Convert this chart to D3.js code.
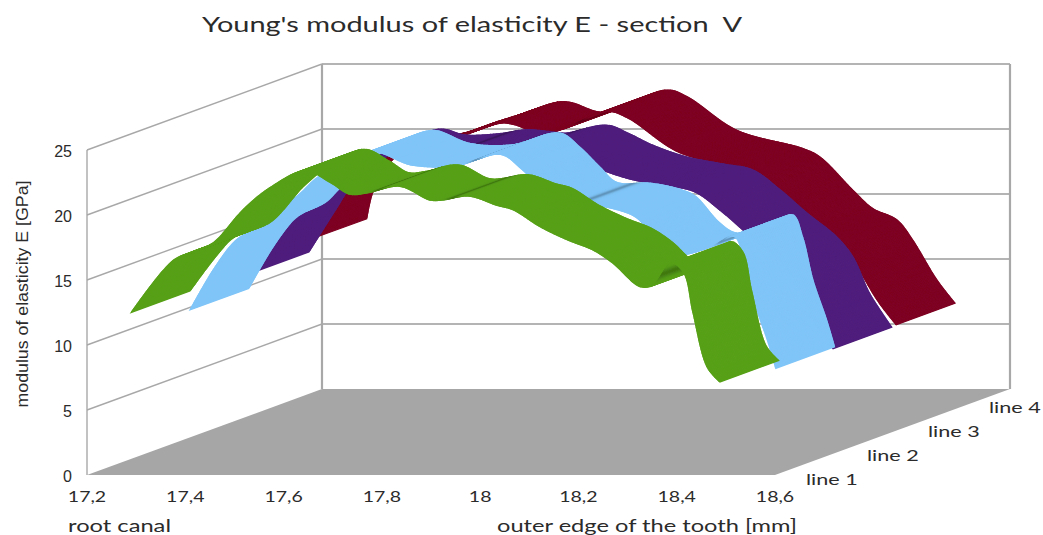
<!DOCTYPE html>
<html>
<head>
<meta charset="utf-8">
<script src="https://cdn.jsdelivr.net/npm/d3@7"></script>
<style>
  html, body { margin: 0; padding: 0; background: #fff; }
  svg { display: block; }
  text { fill: #2b2b2b; white-space: pre; }
</style>
</head>
<body>
<div id="vis"></div>
<script>
const xTicks = [17.2, 17.4, 17.6, 17.8, 18, 18.2, 18.4, 18.6];
const yTicks = [0, 5, 10, 15, 20, 25];
const lineNames = ["line 1", "line 2", "line 3", "line 4"];
const lineColors = ["#57a018", "#80c5f8", "#4f1f7c", "#7e0021"];

const x1 = [17.29,17.375,17.41,17.456,17.52,17.572,17.644,17.695,17.735,17.77,17.837,17.898,17.924,17.977,18.034,18.067,18.122,18.177,18.23,18.27,18.325,18.352,18.39,18.415,18.433,18.462,18.488];
const e1 = [12.5,16.5,17.1,17.85,20.5,22.1,23.4,22.5,21.6,21.7,22.2,21.15,21.15,21.45,20.75,20.4,19.1,18.1,17.3,16.3,14.5,14.6,16.3,15.5,12.5,8.3,7.15];

const x2 = [17.29,17.337,17.378,17.398,17.447,17.479,17.514,17.548,17.605,17.665,17.74,17.827,17.923,17.964,18.004,18.039,18.106,18.173,18.2,18.248,18.283,18.35,18.397,18.417,18.438,18.466,18.482];
const e2 = [11.04,14.1,16.2,16.8,17.7,18.9,20.0,21.2,22.4,23.2,22.2,22.1,23.0,21.9,20.4,19.2,19.15,18.6,18.1,16.1,15.3,15.9,16.7,15.0,11.7,8.6,6.55];

const x3 = [17.293,17.348,17.38,17.415,17.435,17.486,17.559,17.61,17.681,17.736,17.797,17.818,17.899,17.944,17.993,18.062,18.129,18.196,18.251,18.306,18.367,18.4,18.434,18.479];
const e3 = [12.2,15.5,17.3,18.2,19.0,20.5,21.65,21.2,21.3,21.6,21.4,21.35,21.95,21.3,20.4,19.5,19.0,18.5,17.0,15.2,13.35,11.8,9.0,6.4];

const x4 = [17.291,17.303,17.325,17.366,17.438,17.5,17.56,17.602,17.684,17.71,17.765,17.806,17.901,17.942,18.044,18.178,18.213,18.28,18.32,18.37,18.402,18.451,18.488];
const e4 = [13.1,15.1,16.6,18.5,19.3,19.8,20.6,21.1,22.1,22.0,21.3,21.6,23.0,22.5,19.9,18.5,17.85,15.3,13.9,13.0,11.45,8.4,6.6];

const xByLine = [x1, x2, x3, x4];
const eByLine = [e1, e2, e3, e4];

const width = 1043, height = 535;

const svg = d3.select("#vis").append("svg")
  .attr("width", width)
  .attr("height", height);

svg.append("defs").append("filter")
  .attr("id", "soft")
  .append("feGaussianBlur")
  .attr("stdDeviation", 0.5);

// front plane scales
const x = d3.scaleLinear().domain([17.2, 18.6]).range([87, 775]);
const y = d3.scaleLinear().domain([0, 25]).range([475, 150]);
// oblique depth, one band per line
const depthX = d3.scaleLinear().domain([0, 4]).range([0, 235]);
const depthY = d3.scaleLinear().domain([0, 4]).range([0, -86]);

function px(v, d) { return x(v) + depthX(d); }
function py(e, d) { return y(e) + depthY(d); }

////////// walls and floor //////////

const xMin = xTicks[0], xMax = xTicks[xTicks.length - 1];

svg.append("polygon")
  .attr("points", [[px(xMin, 0), py(0, 0)], [px(xMax, 0), py(0, 0)], [px(xMax, 4), py(0, 4)], [px(xMin, 4), py(0, 4)]].join(" "))
  .attr("fill", "#a6a6a6");

svg.selectAll(".side-grid")
  .data(yTicks.slice(1))
  .enter().append("line")
  .attr("class", "side-grid")
  .attr("x1", px(xMin, 0)).attr("x2", px(xMin, 4))
  .attr("y1", d => py(d, 0)).attr("y2", d => py(d, 4))
  .attr("stroke", "#a8a8a8").attr("stroke-width", 1.4);

svg.selectAll(".back-grid")
  .data(yTicks.slice(1))
  .enter().append("line")
  .attr("class", "back-grid")
  .attr("x1", px(xMin, 4)).attr("x2", px(xMax, 4))
  .attr("y1", d => py(d, 4)).attr("y2", d => py(d, 4))
  .attr("stroke", "#b4b4b4").attr("stroke-width", 2);

const edges = [[xMin, 0, 1.4], [xMin, 4, 2.2], [xMax, 4, 2.2]];
svg.selectAll(".edge")
  .data(edges)
  .enter().append("line")
  .attr("class", "edge")
  .attr("x1", d => px(d[0], d[1])).attr("x2", d => px(d[0], d[1]))
  .attr("y1", d => py(0, d[1])).attr("y2", d => py(25, d[1]))
  .attr("stroke", "#a8a8a8")
  .attr("stroke-width", d => d[2]);

////////// ribbons, back to front //////////

const depthVec = [depthX(1) - depthX(0), depthY(1) - depthY(0)];

const edgeLine = d3.line().curve(d3.curveCatmullRom.alpha(0.5));

function drawRibbon(i) {
  const pts = xByLine[i].map((v, k) => [px(v, i), py(eByLine[i][k], i)]);
  const helper = svg.append("path").attr("d", edgeLine(pts)).attr("fill", "none");
  const node = helper.node();
  const total = node.getTotalLength();
  const samples = d3.range(0, total, 1.5).concat([total]).map(l => {
    const p = node.getPointAtLength(l);
    return [p.x, p.y];
  });
  helper.remove();

  const quads = d3.pairs(samples).map(([a, b]) => {
    return { a, b, rise: (a[1] - b[1]) / Math.max(0.01, Math.abs(b[0] - a[0])), shade: 0 };
  });

  // a rise that follows a dip gets a dark streak across the ribbon
  let k = 1;
  while (k < quads.length) {
    if (quads[k - 1].rise < 0 && quads[k].rise >= 0) {
      let end = k;
      while (end < quads.length && quads[end].rise >= 0) end++;
      const run = d3.range(k, end);
      const steepest = run[d3.greatestIndex(run, m => quads[m].rise)];
      quads.forEach((o, m) => {
        o.shade = Math.max(o.shade, Math.exp(-Math.pow((m - steepest) / 4, 2)));
      });
      k = end;
    }
    k++;
  }

  const base = lineColors[i];
  const dark = d3.color(base).darker(0.8).formatHex();
  const shadeColor = d => d3.interpolateRgb(base, dark)(d.shade);

  const g = svg.append("g").attr("class", "ribbon").attr("filter", "url(#soft)");
  g.selectAll("polygon")
    .data(quads)
    .enter().append("polygon")
    .attr("points", d => [d.a, d.b, [d.b[0] + depthVec[0], d.b[1] + depthVec[1]], [d.a[0] + depthVec[0], d.a[1] + depthVec[1]]].join(" "))
    .attr("fill", shadeColor)
    .attr("stroke", shadeColor)
    .attr("stroke-width", 1.2);
}

d3.range(3, -1, -1).forEach(drawRibbon);

////////// text //////////

svg.append("text")
  .attr("x", 202).attr("y", 32)
  .attr("font-family", "Lato")
  .attr("font-size", 22)
  .attr("textLength", 540)
  .attr("lengthAdjust", "spacingAndGlyphs")
  .text("Young's modulus of elasticity E - section  V");

svg.selectAll(".y-label")
  .data(yTicks)
  .enter().append("text")
  .attr("class", "y-label")
  .attr("x", 72)
  .attr("y", d => y(d) + 6.5)
  .attr("text-anchor", "end")
  .attr("font-family", "Liberation Sans")
  .attr("font-size", 16)
  .text(d => d);

svg.append("text")
  .attr("transform", "translate(28,294) rotate(-90)")
  .attr("text-anchor", "middle")
  .attr("font-family", "Liberation Sans")
  .attr("font-size", 16)
  .attr("textLength", 227)
  .attr("lengthAdjust", "spacingAndGlyphs")
  .text("modulus of elasticity E [GPa]");

svg.selectAll(".x-label")
  .data(xTicks)
  .enter().append("text")
  .attr("class", "x-label")
  .attr("transform", d => "translate(" + x(d) + ",502) scale(1.3,1)")
  .attr("text-anchor", "middle")
  .attr("font-family", "Lato")
  .attr("font-size", 15)
  .text(d => String(d).replace(".", ","));

const labelX = d3.scaleLinear().domain([0, 3]).range([806, 989]);
const labelY = d3.scaleLinear().domain([0, 3]).range([485, 413]);

svg.selectAll(".depth-label")
  .data(lineNames)
  .enter().append("text")
  .attr("class", "depth-label")
  .attr("transform", (d, i) => "translate(" + labelX(i) + "," + labelY(i) + ") scale(1.35,1)")
  .attr("font-family", "Lato")
  .attr("font-size", 16)
  .text(d => d);

svg.append("text")
  .attr("x", 68).attr("y", 532)
  .attr("font-family", "Lato")
  .attr("font-size", 16.5)
  .attr("textLength", 103)
  .attr("lengthAdjust", "spacingAndGlyphs")
  .text("root canal");

svg.append("text")
  .attr("x", 497).attr("y", 532)
  .attr("font-family", "Lato")
  .attr("font-size", 16.5)
  .attr("textLength", 300)
  .attr("lengthAdjust", "spacingAndGlyphs")
  .text("outer edge of the tooth [mm]");
</script>
</body>
</html>
